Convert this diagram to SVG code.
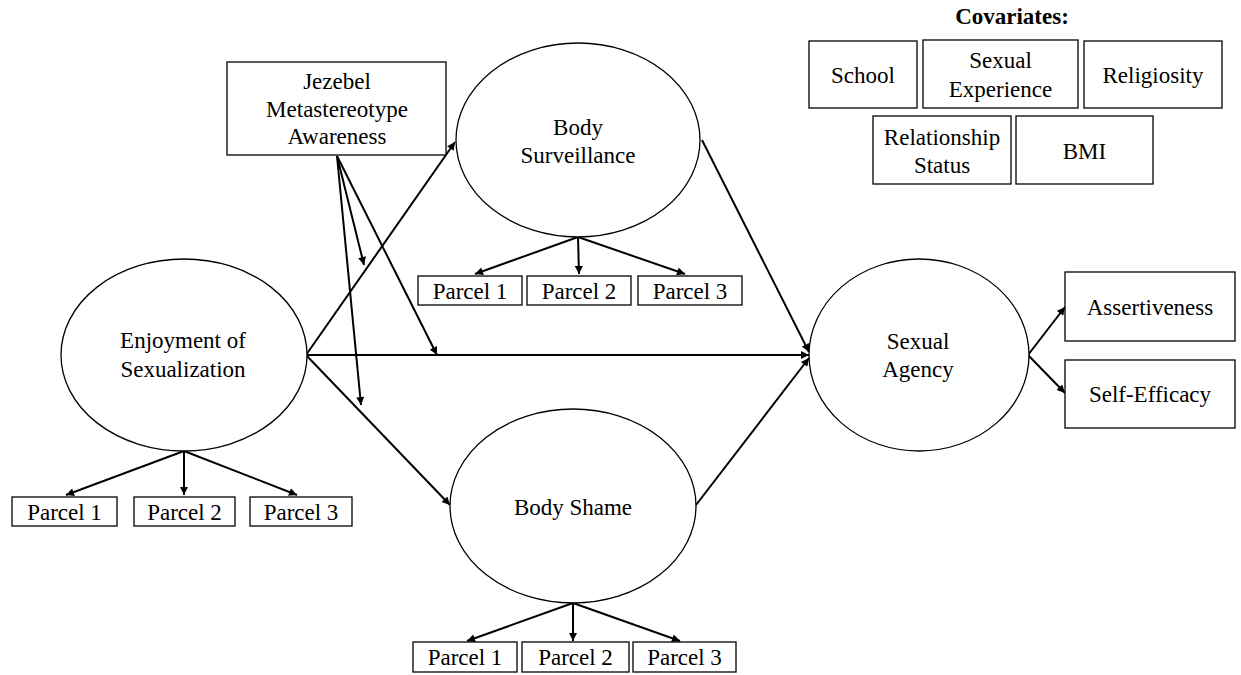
<svg xmlns="http://www.w3.org/2000/svg" width="1241" height="675" viewBox="0 0 1241 675">
<style>
  text { font-family: "Liberation Serif", "Times New Roman", serif; font-size: 23px; fill: #000; text-anchor: middle; }
  .b { font-weight: bold; }
  .box { fill: #fff; stroke: #000; stroke-width: 1.3; }
  .ell { fill: #fff; stroke: #000; stroke-width: 1.3; }
  .c { stroke: #000; stroke-width: 2; fill: none; marker-end: url(#ah); }
</style>
<defs>
  <marker id="ah" viewBox="0 0 10 10" refX="10" refY="5" markerWidth="9" markerHeight="8" markerUnits="userSpaceOnUse" orient="auto">
    <path d="M0,0 L10,5 L0,10 z" fill="#000"/>
  </marker>
</defs>
<rect width="1241" height="675" fill="#fff"/>

<g id="connectors">
  <line class="c" x1="306" y1="355" x2="455" y2="142"/>
  <line class="c" x1="306" y1="355" x2="809" y2="355"/>
  <line class="c" x1="306" y1="355" x2="450" y2="505"/>
  <line class="c" x1="337" y1="156" x2="364" y2="265"/>
  <line class="c" x1="337" y1="156" x2="437" y2="355"/>
  <line class="c" x1="337" y1="156" x2="361" y2="405"/>
  <line class="c" x1="702" y1="140" x2="809" y2="352"/>
  <line class="c" x1="696" y1="505" x2="809" y2="358"/>
  <line class="c" x1="1028" y1="355" x2="1065" y2="307"/>
  <line class="c" x1="1028" y1="355" x2="1065" y2="393"/>
  <line class="c" x1="184" y1="451" x2="66" y2="495"/>
  <line class="c" x1="184" y1="451" x2="184" y2="495"/>
  <line class="c" x1="184" y1="451" x2="297" y2="495"/>
  <line class="c" x1="578" y1="237" x2="475" y2="274"/>
  <line class="c" x1="578" y1="237" x2="579" y2="274"/>
  <line class="c" x1="578" y1="237" x2="685" y2="274"/>
  <line class="c" x1="573" y1="603" x2="467" y2="641"/>
  <line class="c" x1="573" y1="603" x2="573" y2="641"/>
  <line class="c" x1="573" y1="603" x2="680" y2="641"/>
</g>

<g id="jezebel">
  <rect class="box" x="227" y="62" width="219" height="93"/>
  <text x="337" y="89">Jezebel</text>
  <text x="337" y="117">Metastereotype</text>
  <text x="337" y="144">Awareness</text>
</g>

<g id="enjoyment">
  <ellipse class="ell" cx="184" cy="355" rx="123" ry="96"/>
  <text x="183" y="348">Enjoyment of</text>
  <text x="183" y="377">Sexualization</text>
</g>
<g id="surveillance">
  <ellipse class="ell" cx="578" cy="140" rx="122" ry="97"/>
  <text x="578" y="135">Body</text>
  <text x="578" y="163">Surveillance</text>
</g>
<g id="shame">
  <ellipse class="ell" cx="573" cy="506" rx="123" ry="97"/>
  <text x="573" y="515">Body Shame</text>
</g>
<g id="agency">
  <ellipse class="ell" cx="919" cy="355" rx="110" ry="96"/>
  <text x="918" y="349">Sexual</text>
  <text x="918" y="377">Agency</text>
</g>

<g id="assertiveness">
  <rect class="box" x="1065" y="272" width="170" height="69"/>
  <text x="1150" y="315">Assertiveness</text>
</g>
<g id="selfefficacy">
  <rect class="box" x="1065" y="360" width="170" height="68"/>
  <text x="1150" y="402">Self-Efficacy</text>
</g>

<g id="es-parcel1"><rect class="box" x="12" y="497" width="105" height="29"/><text x="64.5" y="520">Parcel 1</text></g>
<g id="es-parcel2"><rect class="box" x="134" y="497" width="101" height="29"/><text x="184.5" y="520">Parcel 2</text></g>
<g id="es-parcel3"><rect class="box" x="250" y="497" width="102" height="29"/><text x="301" y="520">Parcel 3</text></g>

<g id="bsv-parcel1"><rect class="box" x="418" y="276" width="104" height="29"/><text x="470" y="299">Parcel 1</text></g>
<g id="bsv-parcel2"><rect class="box" x="527" y="276" width="104" height="29"/><text x="579" y="299">Parcel 2</text></g>
<g id="bsv-parcel3"><rect class="box" x="638" y="276" width="104" height="29"/><text x="690" y="299">Parcel 3</text></g>

<g id="bsh-parcel1"><rect class="box" x="413" y="642" width="104" height="30"/><text x="465" y="665">Parcel 1</text></g>
<g id="bsh-parcel2"><rect class="box" x="522" y="642" width="107" height="30"/><text x="575.5" y="665">Parcel 2</text></g>
<g id="bsh-parcel3"><rect class="box" x="633" y="642" width="103" height="30"/><text x="684.5" y="665">Parcel 3</text></g>

<g id="covariates-title">
  <text class="b" x="1012" y="24">Covariates:</text>
</g>
<g id="school"><rect class="box" x="809" y="41" width="108" height="67"/><text x="863" y="83">School</text></g>
<g id="sexexp"><rect class="box" x="923" y="40" width="155" height="68"/><text x="1000.5" y="68">Sexual</text><text x="1000.5" y="97">Experience</text></g>
<g id="religiosity"><rect class="box" x="1084" y="41" width="138" height="67"/><text x="1153" y="83">Religiosity</text></g>
<g id="relstatus"><rect class="box" x="873" y="116" width="138" height="68"/><text x="942" y="145">Relationship</text><text x="942" y="173">Status</text></g>
<g id="bmi"><rect class="box" x="1016" y="116" width="137" height="68"/><text x="1084.5" y="159">BMI</text></g>
</svg>
